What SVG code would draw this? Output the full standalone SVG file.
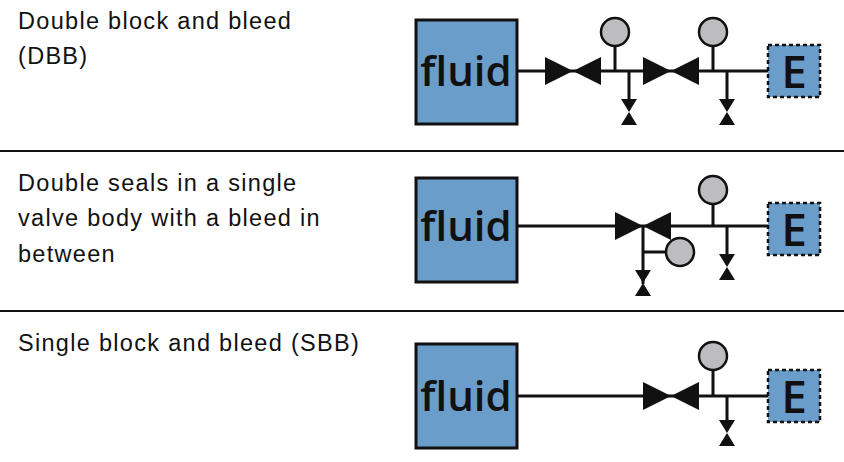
<svg xmlns="http://www.w3.org/2000/svg" width="844" height="462" viewBox="0 0 844 462">
<defs>
<style>
.t{font-family:"Liberation Sans",Arial,sans-serif;font-size:23.5px;letter-spacing:1.3px;fill:#111}
.f{fill:#6b9dcb;stroke:#111;stroke-width:3}
.e{fill:#6b9dcb;stroke:#111;stroke-width:2.5;stroke-dasharray:4 3}
.ft{font-family:"Open Sans","DejaVu Sans",sans-serif;font-size:42px;font-weight:600;fill:#111}
.et{font-family:"Open Sans","DejaVu Sans",sans-serif;font-size:46px;font-weight:600;fill:#111}
.l{stroke:#111;stroke-width:3;fill:none}
.g{fill:#bdbdbf;stroke:#111;stroke-width:2.5}
.v{fill:#111}
</style>
<g id="valveH"><polygon class="v" points="-28,-14 0,0 -28,14"/><polygon class="v" points="28,-14 0,0 28,14"/></g>
<g id="valveV"><polygon class="v" points="-8,-13 8,-13 0,0"/><polygon class="v" points="-8,13 8,13 0,0"/></g>
</defs>
<line x1="0" y1="151" x2="844" y2="151" stroke="#111" stroke-width="2"/>
<line x1="0" y1="311" x2="844" y2="311" stroke="#111" stroke-width="2"/>
<g id="labels">
<text class="t" x="18" y="29">Double block and bleed</text>
<text class="t" x="18" y="64">(DBB)</text>
<text class="t" x="18" y="191">Double seals in a single</text>
<text class="t" x="18" y="226">valve body with a bleed in</text>
<text class="t" x="18" y="262">between</text>
<text class="t" x="18" y="351">Single block and bleed (SBB)</text>
</g>
<g id="connectors">
<path class="l" d="M517 71H768 M615 46V71 M629 71V100 M713 46V71 M727 71V100"/>
<path class="l" d="M517 226H768 M643 226V284 M643 252H666 M713 204V226 M727 226V256"/>
<path class="l" d="M517 396H768 M713 370V396 M727 396V422"/>
</g>
<g id="fluid1"><rect class="f" x="416" y="20" width="101" height="104"/><text class="ft" x="466" y="86" text-anchor="middle">fluid</text></g>
<g id="fluid2"><rect class="f" x="416" y="178" width="101" height="104"/><text class="ft" x="466" y="241" text-anchor="middle">fluid</text></g>
<g id="fluid3"><rect class="f" x="416" y="344" width="101" height="104"/><text class="ft" x="466" y="411" text-anchor="middle">fluid</text></g>
<g id="e1"><rect class="e" x="768" y="45" width="52" height="52"/><text class="et" x="794" y="88" text-anchor="middle">E</text></g>
<g id="e2"><rect class="e" x="768" y="203" width="52" height="52"/><text class="et" x="794" y="246" text-anchor="middle">E</text></g>
<g id="e3"><rect class="e" x="768" y="370" width="52" height="52"/><text class="et" x="794" y="413" text-anchor="middle">E</text></g>
<g id="row1">
<use href="#valveH" x="573" y="71"/><use href="#valveH" x="671" y="71"/>
<use href="#valveV" x="629" y="112"/><use href="#valveV" x="727" y="112"/>
<circle class="g" cx="615" cy="32" r="14"/><circle class="g" cx="713" cy="32" r="14"/>
</g>
<g id="row2">
<use href="#valveH" x="643" y="226"/>
<use href="#valveV" x="643" y="283"/><use href="#valveV" x="727" y="267"/>
<circle class="g" cx="680" cy="252" r="14"/><circle class="g" cx="713" cy="190" r="14"/>
</g>
<g id="row3">
<use href="#valveH" x="671" y="396"/>
<use href="#valveV" x="727" y="433"/>
<circle class="g" cx="713" cy="356" r="14"/>
</g>
</svg>
